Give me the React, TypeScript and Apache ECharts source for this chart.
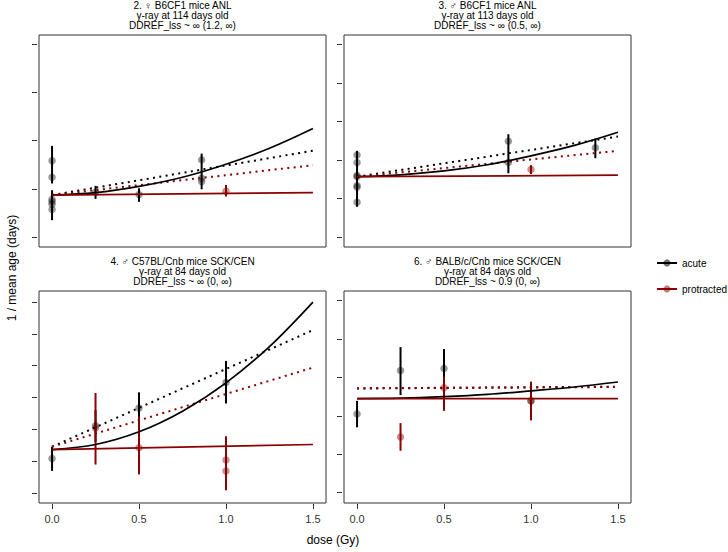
import React, { useEffect, useRef } from "react";
import * as echarts from "echarts";

const FONT = '"Liberation Sans", Arial, Helvetica, sans-serif';

// ---------- data (arbitrary units of 1 / mean age; y ticks are at integers) ----------
const doseTicks = [0, 0.5, 1, 1.5];
const curveDoses = [0, 0.25, 0.5, 0.75, 1, 1.25, 1.5];
const lineDoses = [0, 1.5];

const titles = [
  "2. ♀ B6CF1 mice ANL\nγ-ray at 114 days old\nDDREF_lss ~ ∞ (1.2, ∞)",
  "3. ♂ B6CF1 mice ANL\nγ-ray at 113 days old\nDDREF_lss ~ ∞ (0.5, ∞)",
  "4. ♂ C57BL/Cnb mice SCK/CEN\nγ-ray at 84 days old\nDDREF_lss ~ ∞ (0, ∞)",
  "6. ♂ BALB/c/Cnb mice SCK/CEN\nγ-ray at 84 days old\nDDREF_lss ~ 0.9 (0, ∞)",
];
const legendNames = ["acute", "protracted"];

// panel 2
const p2AcutePts = [[0, 1.58], [0, 1.24], [0, 0.78], [0, 0.73], [0, 0.68], [0, 0.57], [0.25, 0.93], [0.5, 0.88], [0.86, 1.6], [0.86, 1.22], [0.86, 1.15]];
const p2AcuteBars = [[0, 1.11, 1.89], [0, 0.35, 0.97], [0.25, 0.79, 1.06], [0.5, 0.73, 1.01], [0.86, 0.99, 1.73]];
const p2ProtPts = [[1.0, 0.95]];
const p2ProtBars = [[1.0, 0.84, 1.08]];
const p2AcuteCurve = [0.87, 0.92, 1.05, 1.24, 1.51, 1.84, 2.25];
const p2AcuteLinear = [0.87, 1.79];
const p2ProtCurve = [0.87, 0.92];
const p2ProtLinear = [0.87, 1.49];

// panel 3
const p3AcutePts = [[0, 2.13], [0, 1.94], [0, 1.6], [0, 1.57], [0, 1.34], [0, 1.3], [0, 0.91], [0.87, 2.49], [0.87, 1.94], [1.37, 2.32]];
const p3AcuteBars = [[0, 0.79, 2.24], [0.87, 1.66, 2.67], [1.37, 2.05, 2.56]];
const p3ProtPts = [[1.0, 1.76]];
const p3ProtBars = [[1.0, 1.64, 1.87]];
const p3AcuteCurve = [1.57, 1.62, 1.72, 1.88, 2.11, 2.38, 2.72];
const p3AcuteLinear = [1.57, 2.61];
const p3ProtCurve = [1.57, 1.61];
const p3ProtLinear = [1.57, 2.24];

// panel 4
const p4AcutePts = [[0, 1.08], [0.25, 2.11], [0.5, 2.67], [1.0, 3.47]];
const p4AcuteBars = [[0, 0.69, 1.45], [0.25, 1.6, 2.6], [0.5, 2.34, 3.16], [1.0, 2.81, 4.15]];
const p4ProtPts = [[0.25, 2.04], [0.5, 1.42], [1.0, 1.03], [1.0, 0.69]];
const p4ProtBars = [[0.25, 0.89, 3.14], [0.5, 0.58, 2.4], [1.0, 0.08, 1.78]];
const p4AcuteCurve = [1.36, 1.52, 1.92, 2.57, 3.46, 4.6, 6.0];
const p4AcuteLinear = [1.45, 5.12];
const p4ProtCurve = [1.36, 1.52];
const p4ProtLinear = [1.45, 3.94];

// panel 6
const p6AcutePts = [[0, 2.05], [0.25, 3.18], [0.5, 3.23], [1.0, 2.38]];
const p6AcuteBars = [[0, 1.7, 2.39], [0.25, 2.54, 3.79], [0.5, 2.6, 3.74], [1.0, 1.9, 2.85]];
const p6ProtPts = [[0.25, 1.45], [0.5, 2.73], [1.0, 2.4]];
const p6ProtBars = [[0.25, 1.09, 1.81], [0.5, 2.13, 3.02], [1.0, 1.88, 2.89]];
const p6AcuteCurve = [2.45, 2.46, 2.5, 2.56, 2.65, 2.75, 2.88];
const p6AcuteLinear = [2.71, 2.76];
const p6ProtCurve = [2.45, 2.45];
const p6ProtLinear = [2.72, 2.75];

const yTicks = [
  [0, 1, 2, 3, 4],
  [0, 1, 2, 3, 4, 5],
  [0, 1, 2, 3, 4, 5, 6],
  [0, 1, 2, 3, 4, 5],
];

const panels = [
  { ap: p2AcutePts, ab: p2AcuteBars, pp: p2ProtPts, pb: p2ProtBars, ac: p2AcuteCurve, al: p2AcuteLinear, pc: p2ProtCurve, pl: p2ProtLinear },
  { ap: p3AcutePts, ab: p3AcuteBars, pp: p3ProtPts, pb: p3ProtBars, ac: p3AcuteCurve, al: p3AcuteLinear, pc: p3ProtCurve, pl: p3ProtLinear },
  { ap: p4AcutePts, ab: p4AcuteBars, pp: p4ProtPts, pb: p4ProtBars, ac: p4AcuteCurve, al: p4AcuteLinear, pc: p4ProtCurve, pl: p4ProtLinear },
  { ap: p6AcutePts, ab: p6AcuteBars, pp: p6ProtPts, pb: p6ProtBars, ac: p6AcuteCurve, al: p6AcuteLinear, pc: p6ProtCurve, pl: p6ProtLinear },
];

// ---------- layout / style ----------
const BLACK = "#000000";
const DARKRED = "#8B0000";
const ACUTE_PT = "rgba(0,0,0,0.5)";
const PROT_PT = "rgba(139,0,0,0.55)";
const AXIS_COL = "#333333";

const gridBoxes = [
  { left: 39, top: 35, width: 287, height: 212 },
  { left: 344, top: 35, width: 287, height: 212 },
  { left: 39, top: 291, width: 287, height: 212 },
  { left: 344, top: 291, width: 287, height: 212 },
];
const yRanges = [
  [-0.207, 4.19],
  [-0.25, 5.24],
  [-0.32, 6.35],
  [-0.27, 5.25],
];

function barSeries(i: number, data: number[][], color: string) {
  return {
    type: "custom",
    xAxisIndex: i,
    yAxisIndex: i,
    silent: true,
    data,
    encode: { x: 0, y: [1, 2] },
    renderItem: (_p: any, api: any) => {
      const a = api.coord([api.value(0), api.value(1)]);
      const b = api.coord([api.value(0), api.value(2)]);
      return {
        type: "line",
        shape: { x1: a[0], y1: a[1], x2: b[0], y2: b[1] },
        style: { stroke: color, lineWidth: 2 },
      };
    },
  };
}

function pointSeries(i: number, data: number[][], color: string) {
  return {
    type: "scatter",
    xAxisIndex: i,
    yAxisIndex: i,
    silent: true,
    data,
    symbol: "circle",
    symbolSize: 7.5,
    itemStyle: { color, borderWidth: 0 },
  };
}

function lineSeries(i: number, doses: number[], vals: number[], color: string, dotted: boolean) {
  return {
    type: "line",
    xAxisIndex: i,
    yAxisIndex: i,
    silent: true,
    data: doses.map((d, j) => [d, vals[j]]),
    showSymbol: false,
    symbol: "none",
    smooth: doses.length > 2 ? 0.35 : false,
    lineStyle: dotted
      ? { color, width: 2, type: [2, 4.4], cap: "butt" }
      : { color, width: 1.7, type: "solid" },
  };
}

export default function App() {
  const ref = useRef<HTMLDivElement>(null);

  useEffect(() => {
    document.body.style.margin = "0";
    if (!ref.current) return;
    const chart = echarts.init(ref.current, undefined, { renderer: "svg" });

    const grid = gridBoxes.map((g) => ({
      ...g,
      show: true,
      borderColor: AXIS_COL,
      borderWidth: 1,
      backgroundColor: "transparent",
      containLabel: false,
    }));

    const xAxis = gridBoxes.map((_, i) => {
      const bottom = i >= 2;
      return {
        type: "value",
        gridIndex: i,
        position: "bottom",
        min: -0.075,
        max: 1.575,
        offset: 1,
        splitLine: { show: false },
        axisLine: { show: false, onZero: false },
        axisTick: {
          show: bottom,
          length: 5,
          customValues: doseTicks,
          lineStyle: { color: AXIS_COL, width: 1 },
        },
        axisLabel: {
          show: bottom,
          customValues: doseTicks,
          formatter: (v: number) => v.toFixed(1),
          fontFamily: FONT,
          fontSize: 11,
          color: "#333",
          margin: 9,
        },
      };
    });

    const yAxis = gridBoxes.map((_, i) => ({
      type: "value",
      gridIndex: i,
      position: "left",
      min: yRanges[i][0],
      max: yRanges[i][1],
      offset: 2,
      splitLine: { show: false },
      axisLine: { show: false, onZero: false },
      axisTick: {
        show: true,
        length: 5,
        customValues: yTicks[i],
        lineStyle: { color: AXIS_COL, width: 1 },
      },
      axisLabel: { show: false, customValues: yTicks[i] },
    }));

    const series: any[] = [];
    panels.forEach((p, i) => {
      series.push(barSeries(i, p.ab, BLACK));
      series.push(barSeries(i, p.pb, DARKRED));
      series.push(pointSeries(i, p.ap, ACUTE_PT));
      series.push(pointSeries(i, p.pp, PROT_PT));
      series.push(lineSeries(i, lineDoses, p.al, BLACK, true));
      series.push(lineSeries(i, lineDoses, p.pl, DARKRED, true));
      series.push(lineSeries(i, curveDoses, p.ac, BLACK, false));
      series.push(lineSeries(i, lineDoses, p.pc, DARKRED, false));
    });

    const graphic: any[] = [];
    gridBoxes.forEach((g, i) => {
      const lines = titles[i].split("\n");
      lines.forEach((t, k) => {
        graphic.push({
          type: "text",
          x: g.left + g.width / 2,
          y: g.top - 29.6 + k * 10.2,
          silent: true,
          style: {
            text: t,
            fontFamily: FONT,
            fontSize: 10,
            fill: "#000",
            align: "center",
            verticalAlign: "middle",
            textAlign: "center",
            textVerticalAlign: "middle",
          },
        });
      });
    });
    // axis titles
    graphic.push({
      type: "text",
      x: 12,
      y: 268,
      rotation: Math.PI / 2,
      silent: true,
      style: {
        text: "1 / mean age (days)",
        fontFamily: FONT,
        fontSize: 12,
        fill: "#000",
        align: "center",
        verticalAlign: "middle",
        textAlign: "center",
        textVerticalAlign: "middle",
      },
    });
    graphic.push({
      type: "text",
      x: 333,
      y: 540,
      silent: true,
      style: {
        text: "dose (Gy)",
        fontFamily: FONT,
        fontSize: 12,
        fill: "#000",
        align: "center",
        verticalAlign: "middle",
        textAlign: "center",
        textVerticalAlign: "middle",
      },
    });
    // legend
    const legendCols = [
      { line: BLACK, dot: "rgba(0,0,0,0.55)" },
      { line: DARKRED, dot: "rgba(139,0,0,0.5)" },
    ];
    legendNames.forEach((name, k) => {
      const y = 263 + k * 26;
      graphic.push({
        type: "line",
        silent: true,
        shape: { x1: 657, y1: y, x2: 677, y2: y },
        style: { stroke: legendCols[k].line, lineWidth: 2 },
      });
      graphic.push({
        type: "circle",
        silent: true,
        shape: { cx: 667, cy: y, r: 3.6 },
        style: { fill: legendCols[k].dot },
      });
      graphic.push({
        type: "text",
        x: 682,
        y,
        silent: true,
        style: {
          text: name,
          fontFamily: FONT,
          fontSize: 10,
          fill: "#000",
          align: "left",
          verticalAlign: "middle",
          textAlign: "left",
          textVerticalAlign: "middle",
        },
      });
    });

    chart.setOption({
      animation: false,
      backgroundColor: "#ffffff",
      textStyle: { fontFamily: FONT },
      grid,
      xAxis,
      yAxis,
      series,
      graphic,
    });

    return () => chart.dispose();
  }, []);

  return <div ref={ref} style={{ width: 728, height: 552 }} />;
}
